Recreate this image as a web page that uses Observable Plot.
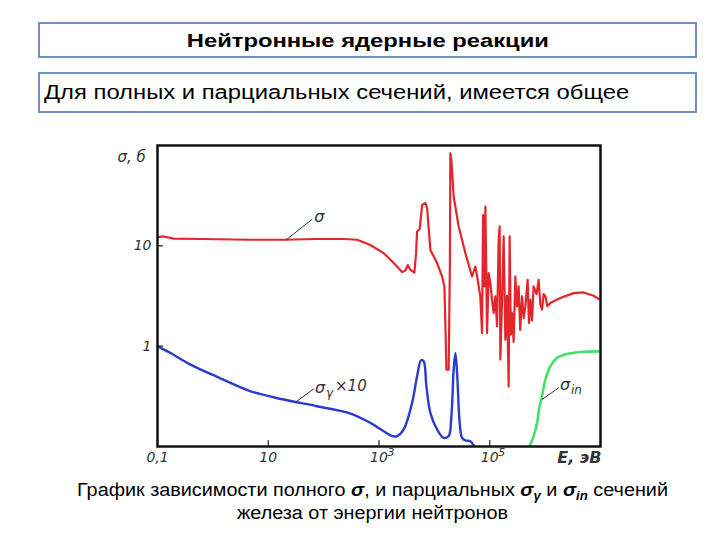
<!DOCTYPE html>
<html>
<head>
<meta charset="utf-8">
<script src="https://cdn.jsdelivr.net/npm/d3@7"></script>
<script src="https://cdn.jsdelivr.net/npm/@observablehq/plot@0.6"></script>
<style>
  html, body { margin: 0; padding: 0; background: #fff; }
  body { width: 720px; height: 540px; position: relative; overflow: hidden; font-family: "Liberation Sans", Arial, sans-serif; }
  .box { position: absolute; left: 38px; width: 655px; border: 2px solid #7090c0; box-sizing: content-box; }
  #t1 { top: 22px; height: 32px; line-height: 33px; text-align: center; font-weight: bold; font-size: 19px; color: #000; }
  #t1 span { display: inline-block; transform: scaleX(1.25); transform-origin: center; }
  #t2 { top: 72px; height: 37px; line-height: 37px; text-align: left; font-size: 20px; color: #000; }
  #t2 span { display: inline-block; margin-left: 4px; transform: scaleX(1.19); transform-origin: left center; }
  #chart { position: absolute; left: 100px; top: 135px; }
  #cap { position: absolute; left: 0; width: 745px; top: 479px; text-align: center; font-size: 18px; line-height: 23px; color: #000; }
  #cap div { transform: scaleX(1.1); transform-origin: center; }
  #cap b { font-style: italic; }
  #cap sub { font-size: 12px; vertical-align: -4px; line-height: 0; }
</style>
</head>
<body>
<div class="box" id="t1"><span>Нейтронные ядерные реакции</span></div>
<div class="box" id="t2"><span>Для полных и парциальных сечений, имеется общее</span></div>
<div id="chart"></div>
<div id="cap"><div>График зависимости полного <b>σ</b>, и парциальных <b>σ<sub>γ</sub></b> и <b>σ<sub>in</sub></b> сечений</div><div>железа от энергии нейтронов</div></div>
<script>
// Total cross-section σ (barn) vs neutron energy E (eV)
const totalE = [0.101, 0.13, 0.197, 0.6, 4.8, 19, 76, 231, 403, 700, 1216, 1842, 2612, 3000, 3300, 3690, 4360, 4670, 4870, 5430, 6000, 6890, 7390, 8470, 11190, 13770, 15170, 15810, 16480, 18130, 19050, 19450, 20280, 22300, 27480, 36300, 47900, 55000, 60500, 67600, 72600, 75700, 80000, 83400, 89400, 95500, 102500, 110000, 117600, 126000, 135500, 145000, 151000, 155400, 166700, 178200, 191300, 205000, 219500, 228600, 240000, 252800, 270000, 289900, 311200, 332700, 355000, 383000, 410000, 439300, 483400, 510000, 540800, 580000, 619400, 700000, 763400, 820000, 879000, 940000, 1010000, 1100000, 1240000, 1880000, 3270000, 4950000, 7500000, 9250000];
const totalS = [12.2, 12.4, 11.8, 11.7, 11.5, 11.5, 11.7, 11.7, 11.5, 10.2, 8.45, 6.73, 5.47, 5.68, 6.43, 5.77, 5.42, 8.45, 13.9, 14.7, 25.6, 26.6, 23.7, 9.1, 6.73, 4.95, 3.94, 1.57, 0.583, 0.583, 6.22, 83.6, 71.7, 31, 15.6, 8.45, 4.95, 6.22, 4.59, 3.13, 1.35, 20.3, 3.94, 24.6, 1.35, 5.35, 4.26, 2.9, 2.14, 3.13, 1.57, 11.5, 15.6, 0.735, 2.9, 12.4, 1.16, 3.2, 0.398, 12.4, 1.3, 2.14, 1.1, 4.95, 2.49, 3.94, 1.45, 3.13, 1.9, 2.49, 4.59, 1.7, 2.9, 1.8, 3.94, 3.3, 4.59, 2.6, 2.31, 3.3, 3.13, 2.5, 2.69, 3.02, 3.38, 3.43, 3.18, 2.95];

// Radiative capture σγ × 10
const gammaE = [0.101, 0.172, 0.394, 1.2, 4.8, 19, 76, 305, 700, 1216, 1726, 2124, 2793, 3960, 4870, 5760, 6410, 7180, 8470, 11190, 14720, 18130, 20280, 22300, 23930, 25700, 28640, 31620, 36300, 44670, 52700, 67600];
const gammaS = [0.995, 0.855, 0.655, 0.494, 0.355, 0.294, 0.252, 0.213, 0.172, 0.142, 0.127, 0.127, 0.148, 0.272, 0.501, 0.723, 0.707, 0.398, 0.216, 0.148, 0.122, 0.127, 0.2, 0.583, 0.855, 0.541, 0.172, 0.122, 0.115, 0.113, 0.1, 0.08];

// Inelastic σin
const inelE = [356500, 518800, 619400, 714500, 796000, 879000, 1010000, 1240000, 1640000, 2480000, 4320000, 9640000];
const inelS = [0.07, 0.1, 0.127, 0.172, 0.252, 0.316, 0.465, 0.63, 0.764, 0.836, 0.875, 0.887];

// Axis ticks
const xTicks = [0.1, 10, 1e3, 1e5];
const xTickLabels = ["0,1", "10", "10", "10"];
const xTickExps = ["", "", "3", "5"];
const yTicks = [1, 10];
const yTickLabels = ["1", "10"];

// Curve labels with leader lines (E, σ)
const labelText = ["σ", "σ", "σ"];
const labelSub = ["", "γ", "in"];
const labelSuffix = ["", "×10", ""];
const leaderE1 = [20.4, 31, 879000];
const leaderS1 = [11.3, 0.276, 0.294];
const leaderE2 = [62, 66, 1750000];
const leaderS2 = [18.4, 0.375, 0.384];
const labelE = [68, 70, 1850000];
const labelS = [19.6, 0.385, 0.41];

const total = totalE.map((e, i) => ({E: e, s: totalS[i]}));
const gamma = gammaE.map((e, i) => ({E: e, s: gammaS[i]}));
const inel = inelE.map((e, i) => ({E: e, s: inelS[i]}));
const labels = labelText.map((t, i) => ({t, sub: labelSub[i], suf: labelSuffix[i], x1: leaderE1[i], y1: leaderS1[i], x2: leaderE2[i], y2: leaderS2[i], x: labelE[i], y: labelS[i]}));
const xt = xTicks.map((v, i) => ({v, l: xTickLabels[i], e: xTickExps[i]}));
const yt = yTicks.map((v, i) => ({v, l: yTickLabels[i]}));

const font = "'DejaVu Sans', sans-serif";
const ink = "#333";
const tickShape = {draw(context, l) { context.moveTo(0, 0); context.lineTo(0, -l); }};

const chart = Plot.plot({
  width: 520,
  height: 340,
  marginLeft: 57,
  marginRight: 20,
  marginTop: 10,
  marginBottom: 29,
  style: {fontFamily: font, fontSize: "13px", fontStyle: "italic", background: "white", color: "#222"},
  x: {type: "log", domain: [0.1, 1e7], axis: null},
  y: {type: "log", domain: [0.1, 100], axis: null},
  marks: [
    Plot.line(total, {x: "E", y: "s", stroke: "#e3262c", strokeWidth: 2.2, clip: true, curve: "linear"}),
    Plot.line(gamma, {x: "E", y: "s", stroke: "#2b3ccc", strokeWidth: 2.4, clip: true, curve: "catmull-rom"}),
    Plot.line(inel, {x: "E", y: "s", stroke: "#45e06c", strokeWidth: 2.6, clip: true, curve: "catmull-rom"}),
    Plot.link(labels, {x1: "x1", y1: "y1", x2: "x2", y2: "y2", stroke: ink, strokeWidth: 1}),
    Plot.text(labels, {x: "x", y: "y", text: "t", textAnchor: "start", fontSize: 16, fontStyle: "italic", fill: ink}),
    Plot.text(labels, {x: "x", y: "y", text: "sub", textAnchor: "start", dx: 11, dy: 5, fontSize: 12, fontStyle: "italic", fill: ink}),
    Plot.text(labels, {x: "x", y: "y", text: "suf", textAnchor: "start", dx: 20, dy: -2, fontSize: 15, fontStyle: "italic", fill: ink}),
    // inward tick marks
    Plot.vector(xt.slice(1), {x: "v", frameAnchor: "bottom", length: 6, rotate: 0, anchor: "start", shape: tickShape, stroke: "#222", strokeWidth: 1.2}),
    Plot.vector(yt, {y: "v", frameAnchor: "left", length: 5, rotate: 90, anchor: "start", shape: tickShape, stroke: "#222", strokeWidth: 1.2}),
    // tick labels
    Plot.text(xt, {x: "v", frameAnchor: "bottom", dy: 15, text: "l", fontSize: 14, fontStyle: "italic", fill: ink}),
    Plot.text(xt, {x: "v", frameAnchor: "bottom", dy: 9, dx: 12, text: "e", fontSize: 11, fontStyle: "italic", fill: ink}),
    Plot.text(yt, {y: "v", frameAnchor: "left", dx: -6, textAnchor: "end", text: "l", fontSize: 14, fontStyle: "italic", fill: ink}),
    Plot.text(["E, эВ"], {frameAnchor: "bottom-right", dy: 16, dx: 1, fontSize: 16, fontStyle: "italic", fontWeight: "bold", fill: ink}),
    Plot.text(["σ, б"], {frameAnchor: "top-left", dx: -40, dy: 6, fontSize: 15, fontStyle: "italic", fill: ink, textAnchor: "start"}),
    Plot.frame({stroke: "#111", strokeWidth: 2.5})
  ]
});
document.getElementById("chart").appendChild(chart);
</script>
</body>
</html>
